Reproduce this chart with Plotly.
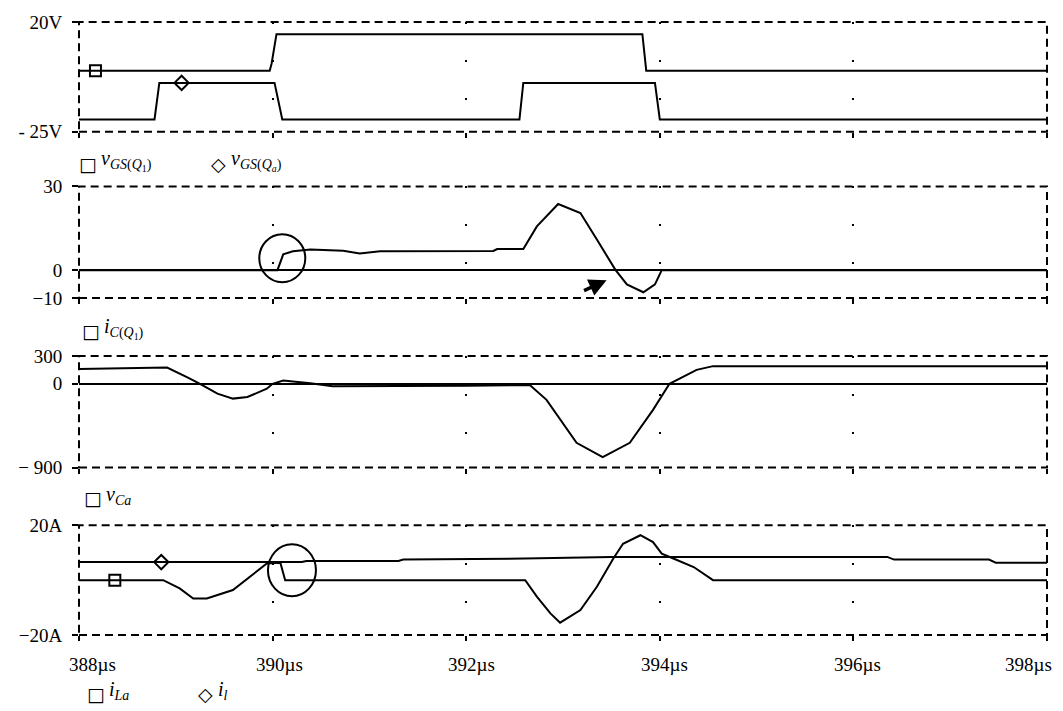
import numpy as np
import plotly.graph_objects as go

# ---------------- waveform data (time in µs) ----------------
t_vgs_q1 = [388.0, 389.97, 389.99, 390.04, 393.82, 393.86, 398.0]
v_vgs_q1 = [0, 0, 3, 15, 15, 0, 0]

t_vgs_qa = [388.0, 388.78, 388.83, 390.02, 390.10, 392.55, 392.59, 393.95, 394.0, 398.0]
v_vgs_qa = [-20, -20, -5, -5, -20, -20, -5, -5, -20, -20]

t_ic_q1 = [388.0, 390.05, 390.11, 390.21, 390.39, 390.59, 390.73, 390.9, 391.11, 392.28,
           392.32, 392.59, 392.73, 392.95, 393.18, 393.35, 393.54, 393.66, 393.83, 393.95,
           394.02, 398.0]
v_ic_q1 = [0, 0, 5.7, 6.8, 7.4, 7.2, 7.0, 6.0, 6.8, 6.9,
           7.6, 7.6, 15.7, 23.7, 20.5, 11, 0.2, -5.1, -7.9, -5.1,
           0, 0]

t_vca = [388.0, 388.6, 388.91, 389.12, 389.25, 389.43, 389.59, 389.74, 389.94, 390.0,
         390.11, 390.39, 390.62, 392.0, 392.66, 392.83, 393.14, 393.41, 393.69, 393.93,
         394.1, 394.38, 394.55, 398.0]
v_vca = [160, 170, 175, 70, 0, -106, -159, -142, -53, 0,
         35, 6, -25, -20, -15, -172, -634, -787, -634, -280,
         0, 150, 190, 190]

t_ila = [388.0, 388.87, 389.04, 389.18, 389.32, 389.59, 389.94, 390.08, 390.13, 392.61,
         392.73, 392.87, 392.97, 393.18, 393.35, 393.52, 393.62, 393.80, 393.93, 394.02,
         394.14, 394.35, 394.55, 398.0]
v_ila = [0, 0, -3, -6.7, -6.7, -3.6, 6.1, 6.4, 0, 0,
         -6, -12.1, -15.5, -10.9, -2.4, 7.9, 13.3, 16.4, 13.9, 9.7,
         7.9, 4.8, 0, 0]

t_il = [388.0, 390.3, 390.35, 391.3, 391.35, 392.6, 393.5, 396.35, 396.42, 397.4, 397.47, 398.0]
v_il = [6.6, 6.6, 7.0, 7.0, 7.5, 7.9, 8.5, 8.5, 7.5, 7.5, 6.4, 6.4]

# marker times on each trace
mark_q1, mark_qa = 388.17, 389.06
mark_ila, mark_il = 388.37, 388.85

x_ticks = [388, 390, 392, 394, 396, 398]
x_ticktext = ["388µs", "390µs", "392µs", "394µs", "396µs", "398µs"]

y_ranges = [[-25, 20], [-10, 30], [-900, 300], [-20, 20]]
y_tickvals = [[20, -25], [30, 0, -10], [300, 0, -900], [20, -20]]
y_ticktext = [["20V", "- 25V"], ["30", "0", "−10"], ["300", "0", "− 900"], ["20A", "−20A"]]

# ---------------- page geometry ----------------
W, H = 1063, 711
ML, MR, MT, MB = 79, 16, 20, 76
PW, PH = W - ML - MR, H - MT - MB


def px(xp):
    return (xp - ML) / PW


def py(yp):
    return 1 - (yp - MT) / PH


panel_px = [(20, 130), (185, 297), (355, 467), (525, 635)]

FONT = "Liberation Serif"
LINE = dict(color="black", width=2)

fig = go.Figure()

series = [
    (1, t_vgs_q1, v_vgs_q1), (1, t_vgs_qa, v_vgs_qa),
    (2, t_ic_q1, v_ic_q1),
    (3, t_vca, v_vca),
    (4, t_il, v_il), (4, t_ila, v_ila),
]
for k, t, v in series:
    sfx = "" if k == 1 else str(k)
    fig.add_trace(go.Scatter(x=t, y=v, mode="lines", line=LINE,
                             xaxis="x" + sfx, yaxis="y" + sfx, hoverinfo="skip"))

markers = [
    (1, mark_q1, t_vgs_q1, v_vgs_q1, "square-open"),
    (1, mark_qa, t_vgs_qa, v_vgs_qa, "diamond-open"),
    (4, mark_ila, t_ila, v_ila, "square-open"),
    (4, mark_il, t_il, v_il, "diamond-open"),
]
for k, tm, t, v, sym in markers:
    sfx = "" if k == 1 else str(k)
    fig.add_trace(go.Scatter(
        x=[tm], y=[float(np.interp(tm, t, v))], mode="markers",
        marker=dict(symbol=sym, size=11, color="black", line=dict(width=2, color="black")),
        xaxis="x" + sfx, yaxis="y" + sfx, hoverinfo="skip"))

layout = dict(
    width=W, height=H, margin=dict(l=ML, r=MR, t=MT, b=MB),
    paper_bgcolor="white", plot_bgcolor="white", showlegend=False,
    font=dict(family=FONT, size=18, color="black"),
)

shapes = []
for i, (top, bot) in enumerate(panel_px):
    k = i + 1
    sfx = "" if k == 1 else str(k)
    layout["xaxis" + sfx] = dict(
        domain=[0, 1], range=[388, 398], anchor="y" + sfx,
        tickvals=x_ticks, showticklabels=False,
        ticks="outside", ticklen=5, tickwidth=1.5, tickcolor="black",
        showline=False, zeroline=False,
        showgrid=True, gridcolor="black", gridwidth=1.5, griddash="2px,36px",
    )
    layout["yaxis" + sfx] = dict(
        domain=[py(bot), py(top)], range=y_ranges[i], anchor="x" + sfx,
        tickvals=y_tickvals[i], ticktext=y_ticktext[i],
        ticks="outside", ticklen=6, tickwidth=1.5, tickcolor="black",
        showline=False, showgrid=False,
        zeroline=(k in (2, 3)), zerolinecolor="black", zerolinewidth=2,
        ticklabelstandoff=6, tickfont=dict(family=FONT, size=19),
    )
    shapes.append(dict(type="rect", xref=f"x{sfx} domain", yref=f"y{sfx} domain",
                       x0=0, x1=1, y0=0, y1=1,
                       line=dict(color="black", width=2, dash="8px,5px")))

# highlight circles
shapes.append(dict(type="circle", xref="x2", yref="y2", xsizemode="pixel", ysizemode="pixel",
                   xanchor=390.1, yanchor=4.3, x0=-23, x1=23, y0=-24, y1=24,
                   line=dict(color="black", width=2)))
shapes.append(dict(type="circle", xref="x4", yref="y4", xsizemode="pixel", ysizemode="pixel",
                   xanchor=390.2, yanchor=3.6, x0=-24, x1=24, y0=-26, y1=26,
                   line=dict(color="black", width=2)))
layout["shapes"] = shapes

annotations = []

# time-axis labels under the bottom panel; end labels are nudged inward to stay on the page
label_shift = [13, 7, 5, 5, 4, -19]
for tv, tt, sh in zip(x_ticks, x_ticktext, label_shift):
    annotations.append(dict(x=tv, y=py(665), xref="x4", yref="paper", text=tt,
                            showarrow=False, xanchor="center", yanchor="middle", xshift=sh,
                            font=dict(family=FONT, size=19, color="black")))


def legend_item(xsym, y, sym, label):
    annotations.append(dict(x=px(xsym), y=py(y), xref="paper", yref="paper",
                            text=sym, showarrow=False, xanchor="center", yanchor="middle",
                            font=dict(family="DejaVu Sans", size=19, color="black")))
    annotations.append(dict(x=px(xsym + 11), y=py(y - 3), xref="paper", yref="paper",
                            text=label, showarrow=False, xanchor="left", yanchor="middle",
                            font=dict(family=FONT, size=20, color="black")))


legend_item(88, 162, "□", "<i>v</i><sub><i>GS</i>(<i>Q</i><sub>1</sub>)</sub>")
legend_item(218, 162, "◇", "<i>v</i><sub><i>GS</i>(<i>Q</i><sub><i>a</i></sub>)</sub>")
legend_item(91, 330, "□", "<i>i</i><sub><i>C</i>(<i>Q</i><sub>1</sub>)</sub>")
legend_item(93, 498, "□", "<i>v</i><sub><i>Ca</i></sub>")
legend_item(96, 694, "□", "<i>i</i><sub><i>La</i></sub>")
legend_item(205, 694, "◇", "<i>i</i><sub><i>l</i></sub>")

# arrow pointing at the zero crossing of i_C(Q1)
annotations.append(dict(x=393.45, y=-3.6, xref="x2", yref="y2", text="", showarrow=True,
                        ax=-24, ay=11, arrowhead=2, arrowsize=1.0, arrowwidth=3.5,
                        arrowcolor="black"))
layout["annotations"] = annotations

fig.update_layout(**layout)
fig.write_html("out.html")
